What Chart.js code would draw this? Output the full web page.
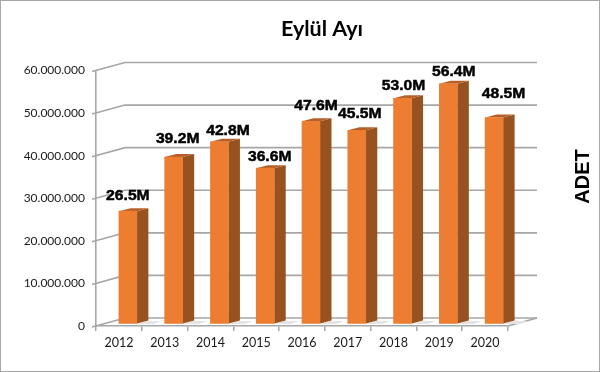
<!DOCTYPE html>
<html><head><meta charset="utf-8">
<style>html,body{margin:0;padding:0;background:#fff}#w{position:absolute;left:0;top:0;width:600px;height:372px}</style>
<script src="https://cdn.jsdelivr.net/npm/chart.js@4"></script></head>
<body><div id="w"><canvas id="c" width="600" height="372"></canvas></div>
<script>
const years = ['2012','2013','2014','2015','2016','2017','2018','2019','2020'];
const adet = [26500000,39200000,42800000,36600000,47600000,45500000,53000000,56400000,48500000];
const valueLabels = ['26.5M','39.2M','42.8M','36.6M','47.6M','45.5M','53.0M','56.4M','48.5M'];
const chartTitle = 'Eylül Ayı';
const axisTitle = 'ADET';

// hand-placed label offsets from each bar's category centre and value position
const labelDx = [9, 13, 17.5, 13.5, 14, 12, 10, 14.5, 18.5];
const labelDy = [-16.6, -19.7, -12.5, -13, -17, -18, -14, -13.8, -25.3];

const WALL_DX = 29, WALL_DY = 8;     // depth of the back wall
const BAR_DX = 9, BAR_DY = 2;        // bars stand in the middle of the floor
const SIDE_DX = 11.5, SIDE_DY = 3;   // depth of a bar
const GRID = '#a6a6a6';

const scene = {
  id: 'scene',
  afterLayout(ch) {
    // the title is centred over the whole 3D plot, not over the canvas
    ch.titleBlock.left += 44;
  },
  beforeDraw(ch) {
    const c = ch.ctx; c.save();
    c.fillStyle = '#fff'; c.fillRect(0,0,600,372);
    c.strokeStyle = '#a6a6a6'; c.lineWidth = 2; c.strokeRect(0,0,600,372);
    c.restore();
  },
  beforeDatasetsDraw(ch) {
    const c = ch.ctx, a = ch.chartArea, y = ch.scales.y;
    c.save();
    c.strokeStyle = GRID; c.lineWidth = 1.6;
    y.ticks.forEach(t => {
      const p = y.getPixelForValue(t.value);
      c.beginPath();
      c.moveTo(a.left - 4, p + 1);
      c.lineTo(a.left + WALL_DX, p - WALL_DY);
      c.lineTo(a.right + WALL_DX, p - WALL_DY);
      c.stroke();
    });
    // right floor edge
    c.beginPath();
    c.moveTo(a.right, a.bottom);
    c.lineTo(a.right + WALL_DX, a.bottom - WALL_DY);
    c.stroke();
    // floor shadows
    c.fillStyle = '#e4e4e4';
    ch.getDatasetMeta(0).data.forEach(b => {
      const r = b.x + b.width/2 + BAR_DX + SIDE_DX, bt = a.bottom - BAR_DY;
      c.beginPath();
      c.moveTo(r - 2, bt - 3);
      c.lineTo(r + 13, bt - 3);
      c.lineTo(r + 5, bt);
      c.lineTo(r - 11, bt);
      c.closePath(); c.fill();
    });
    c.restore();
  },
  beforeDatasetDraw(ch) {
    const c = ch.ctx;
    c.save();
    // sides and tops of the bars
    ch.getDatasetMeta(0).data.forEach(b => {
      const l = b.x - b.width/2 + BAR_DX, r = b.x + b.width/2 + BAR_DX;
      const t = b.y - BAR_DY, bt = b.base - BAR_DY;
      c.fillStyle = '#98521f';
      c.beginPath();
      c.moveTo(r, t); c.lineTo(r + SIDE_DX, t - SIDE_DY);
      c.lineTo(r + SIDE_DX, bt - SIDE_DY); c.lineTo(r, bt);
      c.closePath(); c.fill();
      c.fillStyle = '#b5602a';
      c.beginPath();
      c.moveTo(l, t); c.lineTo(l + SIDE_DX, t - SIDE_DY);
      c.lineTo(r + SIDE_DX, t - SIDE_DY); c.lineTo(r, t);
      c.closePath(); c.fill();
    });
    c.translate(BAR_DX, -BAR_DY);
  },
  afterDatasetDraw(ch) { ch.ctx.restore(); },
  afterDatasetsDraw(ch) {
    const c = ch.ctx;
    ch.getDatasetMeta(0).data.forEach((b, i) => {
      c.save();
      c.translate(b.x + labelDx[i], b.y + labelDy[i]);
      c.scale(1.12, 1);
      c.fillStyle = '#000'; c.strokeStyle = '#000'; c.lineWidth = 0.45;
      c.font = 'bold 14px "Liberation Sans"';
      c.textAlign = 'center'; c.textBaseline = 'middle';
      c.fillText(valueLabels[i], 0, 0);
      c.strokeText(valueLabels[i], 0, 0);
      c.restore();
    });
    c.save();
    c.translate(583, 176.5);
    c.rotate(-Math.PI/2);
    c.fillStyle = '#000';
    c.font = 'bold 20px "Liberation Sans"';
    c.textAlign = 'center'; c.textBaseline = 'middle';
    c.fillText(axisTitle, 0, 0);
    c.restore();
  }
};

new Chart(document.getElementById('c'), {
  type: 'bar',
  plugins: [scene],
  data: { labels: years, datasets: [{ label: axisTitle, data: adet, backgroundColor: '#ed7d31', borderWidth: 0, barThickness: 18, yAxisID: 'y' }] },
  options: {
    responsive: false, animation: false,
    plugins: {
      legend: { display: false }, tooltip: { enabled: false },
      title: { display: true, text: chartTitle, color: '#000',
        font: { family: 'Lato', size: 21.5, weight: 'bold', lineHeight: 1.2 },
        padding: { top: 16, bottom: 28.7 } }
    },
    scales: {
      x: {
        afterFit: s => { s.height = 46; },
        grid: { drawOnChartArea: false, color: GRID, tickLength: 5, lineWidth: 1.5 },
        border: { color: GRID, width: 1.6 },
        ticks: { color: '#1a1a1a', padding: 4, font: { family: 'Lato', size: 12.5 }, maxRotation: 0 }
      },
      y: {
        min: 0, max: 60000000,
        afterFit: s => { s.width = 96; },
        grid: { drawOnChartArea: false, tickColor: 'transparent', tickLength: 4 },
        border: { color: GRID, width: 1.6 },
        ticks: { stepSize: 10000000, color: '#1a1a1a', padding: 7, font: { family: 'Lato', size: 12 },
          callback: v => String(v).replace(/\B(?=(\d{3})+$)/g, '.') }
      },
      y2: {
        position: 'right', min: 0, max: 60000000,
        afterFit: s => { s.width = 92; },
        grid: { display: false }, border: { display: false }, ticks: { display: false }
      }
    }
  }
});
</script></body></html>
